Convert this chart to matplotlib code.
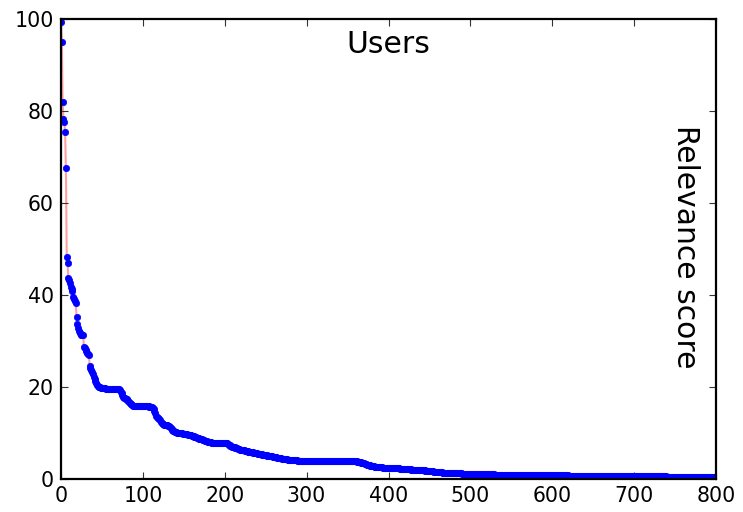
import matplotlib
matplotlib.use("Agg")
import matplotlib.pyplot as plt
import numpy as np

# Relevance scores of users, sorted descending
scores = [
    99.3, 95.0, 82.0, 78.3, 77.6, 75.5, 67.5, 48.3, 47.0, 43.6, 43.3, 42.7, 41.8, 41.3, 40.9, 39.5, 39.1, 38.8, 38.3, 35.3,
    33.8, 32.8, 32.2, 31.7, 31.5, 31.4, 31.3, 31.2, 28.8, 28.5, 28.1, 27.8, 27.5, 27.2, 27.0, 24.6, 24.2, 23.7, 23.3, 22.8,
    22.2, 21.7, 21.2, 20.8, 20.5, 20.3, 20.1, 20.0, 19.9, 19.8, 19.8, 19.7, 19.7, 19.7, 19.7, 19.6, 19.6, 19.6, 19.6, 19.6,
    19.6, 19.6, 19.6, 19.6, 19.6, 19.6, 19.6, 19.6, 19.5, 19.5, 19.5, 19.5, 19.3, 19.0, 18.6, 18.2, 17.9, 17.7, 17.6, 17.5,
    17.4, 17.2, 17.0, 16.8, 16.6, 16.4, 16.2, 16.0, 15.9, 15.8, 15.8, 15.8, 15.8, 15.8, 15.8, 15.8, 15.8, 15.8, 15.8, 15.8,
    15.8, 15.8, 15.8, 15.8, 15.8, 15.8, 15.8, 15.8, 15.7, 15.7, 15.7, 15.7, 15.5, 15.2, 14.8, 14.3, 13.8, 13.5, 13.3, 13.2,
    13.0, 12.8, 12.5, 12.2, 12.0, 11.9, 11.8, 11.8, 11.7, 11.7, 11.7, 11.6, 11.5, 11.3, 11.1, 10.9, 10.7, 10.5, 10.4, 10.3,
    10.2, 10.2, 10.1, 10.1, 10.0, 10.0, 9.9, 9.9, 9.9, 9.8, 9.8, 9.8, 9.7, 9.7, 9.7, 9.6, 9.6, 9.6, 9.5, 9.5,
    9.4, 9.3, 9.3, 9.2, 9.1, 9.1, 9.0, 8.9, 8.9, 8.8, 8.7, 8.6, 8.6, 8.5, 8.4, 8.4, 8.3, 8.2, 8.2, 8.1,
    8.1, 8.0, 8.0, 8.0, 7.9, 7.9, 7.9, 7.9, 7.9, 7.9, 7.9, 7.9, 7.9, 7.9, 7.9, 7.9, 7.9, 7.9, 7.9, 7.9,
    7.9, 7.9, 7.8, 7.8, 7.7, 7.5, 7.3, 7.2, 7.1, 7.0, 7.0, 6.9, 6.9, 6.8, 6.7, 6.7, 6.6, 6.5, 6.5, 6.4,
    6.4, 6.3, 6.3, 6.2, 6.2, 6.1, 6.1, 6.0, 6.0, 5.9, 5.9, 5.9, 5.8, 5.8, 5.8, 5.7, 5.7, 5.6, 5.6, 5.6,
    5.5, 5.5, 5.5, 5.4, 5.4, 5.4, 5.3, 5.3, 5.3, 5.2, 5.2, 5.2, 5.1, 5.1, 5.0, 5.0, 5.0, 4.9, 4.9, 4.8,
    4.8, 4.8, 4.7, 4.7, 4.6, 4.6, 4.6, 4.5, 4.5, 4.5, 4.4, 4.4, 4.4, 4.3, 4.3, 4.3, 4.3, 4.2, 4.2, 4.2,
    4.2, 4.2, 4.1, 4.1, 4.1, 4.1, 4.1, 4.1, 4.1, 4.0, 4.0, 4.0, 4.0, 4.0, 4.0, 4.0, 4.0, 4.0, 4.0, 4.0,
    4.0, 4.0, 4.0, 4.0, 4.0, 4.0, 4.0, 4.0, 4.0, 4.0, 4.0, 4.0, 4.0, 4.0, 4.0, 4.0, 4.0, 4.0, 4.0, 4.0,
    4.0, 4.0, 4.0, 4.0, 4.0, 4.0, 4.0, 4.0, 4.0, 4.0, 4.0, 4.0, 4.0, 4.0, 4.0, 4.0, 4.0, 4.0, 4.0, 4.0,
    4.0, 4.0, 4.0, 4.0, 4.0, 4.0, 4.0, 4.0, 4.0, 4.0, 4.0, 4.0, 4.0, 4.0, 4.0, 4.0, 4.0, 4.0, 4.0, 4.0,
    3.9, 3.9, 3.8, 3.8, 3.7, 3.6, 3.6, 3.5, 3.5, 3.4, 3.4, 3.3, 3.3, 3.2, 3.1, 3.1, 3.0, 3.0, 2.9, 2.9,
    2.8, 2.8, 2.8, 2.7, 2.7, 2.7, 2.7, 2.6, 2.6, 2.6, 2.6, 2.6, 2.6, 2.5, 2.5, 2.5, 2.5, 2.5, 2.5, 2.5,
    2.5, 2.5, 2.4, 2.4, 2.4, 2.4, 2.4, 2.4, 2.3, 2.3, 2.3, 2.3, 2.3, 2.3, 2.2, 2.2, 2.2, 2.2, 2.2, 2.2,
    2.2, 2.1, 2.1, 2.1, 2.1, 2.1, 2.1, 2.1, 2.0, 2.0, 2.0, 2.0, 2.0, 2.0, 2.0, 2.0, 1.9, 1.9, 1.9, 1.9,
    1.9, 1.9, 1.9, 1.9, 1.9, 1.8, 1.8, 1.8, 1.8, 1.8, 1.7, 1.7, 1.7, 1.7, 1.7, 1.6, 1.6, 1.6, 1.6, 1.6,
    1.5, 1.5, 1.5, 1.5, 1.5, 1.5, 1.4, 1.4, 1.4, 1.4, 1.4, 1.4, 1.3, 1.3, 1.3, 1.3, 1.3, 1.3, 1.3, 1.3,
    1.2, 1.2, 1.2, 1.2, 1.2, 1.2, 1.2, 1.2, 1.2, 1.2, 1.1, 1.1, 1.1, 1.1, 1.1, 1.1, 1.1, 1.1, 1.1, 1.1,
    1.1, 1.1, 1.1, 1.1, 1.1, 1.0, 1.0, 1.0, 1.0, 1.0, 1.0, 1.0, 1.0, 1.0, 1.0, 1.0, 1.0, 1.0, 1.0, 1.0,
    1.0, 1.0, 1.0, 1.0, 1.0, 1.0, 1.0, 1.0, 1.0, 1.0, 0.9, 0.9, 0.9, 0.9, 0.9, 0.9, 0.9, 0.9, 0.9, 0.9,
    0.9, 0.9, 0.9, 0.9, 0.9, 0.9, 0.9, 0.9, 0.9, 0.9, 0.9, 0.9, 0.9, 0.9, 0.9, 0.9, 0.9, 0.9, 0.9, 0.9,
    0.9, 0.9, 0.9, 0.9, 0.9, 0.9, 0.9, 0.9, 0.9, 0.9, 0.8, 0.8, 0.8, 0.8, 0.8, 0.8, 0.8, 0.8, 0.8, 0.8,
    0.8, 0.8, 0.8, 0.8, 0.8, 0.8, 0.8, 0.8, 0.8, 0.8, 0.8, 0.8, 0.8, 0.8, 0.8, 0.8, 0.8, 0.8, 0.8, 0.8,
    0.8, 0.8, 0.8, 0.8, 0.8, 0.8, 0.8, 0.8, 0.8, 0.8, 0.8, 0.8, 0.8, 0.8, 0.8, 0.8, 0.8, 0.8, 0.8, 0.8,
    0.7, 0.7, 0.7, 0.7, 0.7, 0.7, 0.7, 0.7, 0.7, 0.7, 0.7, 0.7, 0.7, 0.7, 0.7, 0.7, 0.7, 0.7, 0.7, 0.7,
    0.7, 0.7, 0.7, 0.7, 0.7, 0.7, 0.7, 0.7, 0.7, 0.7, 0.7, 0.7, 0.7, 0.7, 0.7, 0.7, 0.7, 0.7, 0.7, 0.7,
    0.7, 0.7, 0.7, 0.7, 0.7, 0.7, 0.7, 0.7, 0.7, 0.7, 0.6, 0.6, 0.6, 0.6, 0.6, 0.6, 0.6, 0.6, 0.6, 0.6,
    0.6, 0.6, 0.6, 0.6, 0.6, 0.6, 0.6, 0.6, 0.6, 0.6, 0.6, 0.6, 0.6, 0.6, 0.6, 0.6, 0.6, 0.6, 0.6, 0.6,
    0.6, 0.6, 0.6, 0.6, 0.6, 0.6, 0.6, 0.6, 0.6, 0.6, 0.6, 0.6, 0.6, 0.6, 0.6, 0.6, 0.6, 0.6, 0.6, 0.6,
    0.6, 0.6, 0.6, 0.6, 0.6, 0.6, 0.6, 0.6, 0.6, 0.6, 0.6, 0.6, 0.6, 0.6, 0.6, 0.6, 0.6, 0.6, 0.6, 0.6,
    0.5, 0.5, 0.5, 0.5, 0.5, 0.5, 0.5, 0.5, 0.5, 0.5, 0.5, 0.5, 0.5, 0.5, 0.5, 0.5, 0.5, 0.5, 0.5, 0.5,
    0.5, 0.5, 0.5, 0.5, 0.5, 0.5, 0.5, 0.5, 0.5, 0.5, 0.5, 0.5, 0.5, 0.5, 0.5, 0.5, 0.5, 0.5, 0.5, 0.5,
    0.5, 0.5, 0.5, 0.5, 0.5, 0.5, 0.5, 0.5, 0.5, 0.5, 0.5, 0.5, 0.5, 0.5, 0.5, 0.5, 0.5, 0.5, 0.5, 0.5,
]
ranks = list(range(len(scores)))

x_ticks = [0, 100, 200, 300, 400, 500, 600, 700, 800]
y_ticks = [0, 20, 40, 60, 80, 100]
title_text = "Users"
side_label = "Relevance score"

W, H = 743, 512
fig = plt.figure(figsize=(W / 100, H / 100), dpi=100)
ax = fig.add_axes([61 / W, 1 - 479 / H, (716 - 61) / W, (479 - 19) / H])

ax.plot(ranks, scores, color="#ffa0a0", linewidth=1.5, zorder=1)
ax.plot(ranks, scores, linestyle="none", marker="o", markersize=4.6,
        markerfacecolor="blue", markeredgecolor="blue", markeredgewidth=0.5, zorder=2)

ax.set_xlim(0, 800)
ax.set_ylim(0, 100)
ax.set_xticks(x_ticks)
ax.set_yticks(y_ticks)
ax.tick_params(direction="in", length=5, width=0.8, top=True, right=True,
               labelsize=14.8, color="#333333", pad=5)
for s in ax.spines.values():
    s.set_linewidth(1.6)
    s.set_color("black")

ax.text(0.5, 0.9254, title_text, transform=ax.transAxes, ha="center", va="baseline",
        fontsize=21.4)
ax.text(0.953, 0.504, side_label, transform=ax.transAxes, ha="center", va="center",
        rotation=-90, fontsize=21.4)

fig.savefig("out.png", dpi=100)
